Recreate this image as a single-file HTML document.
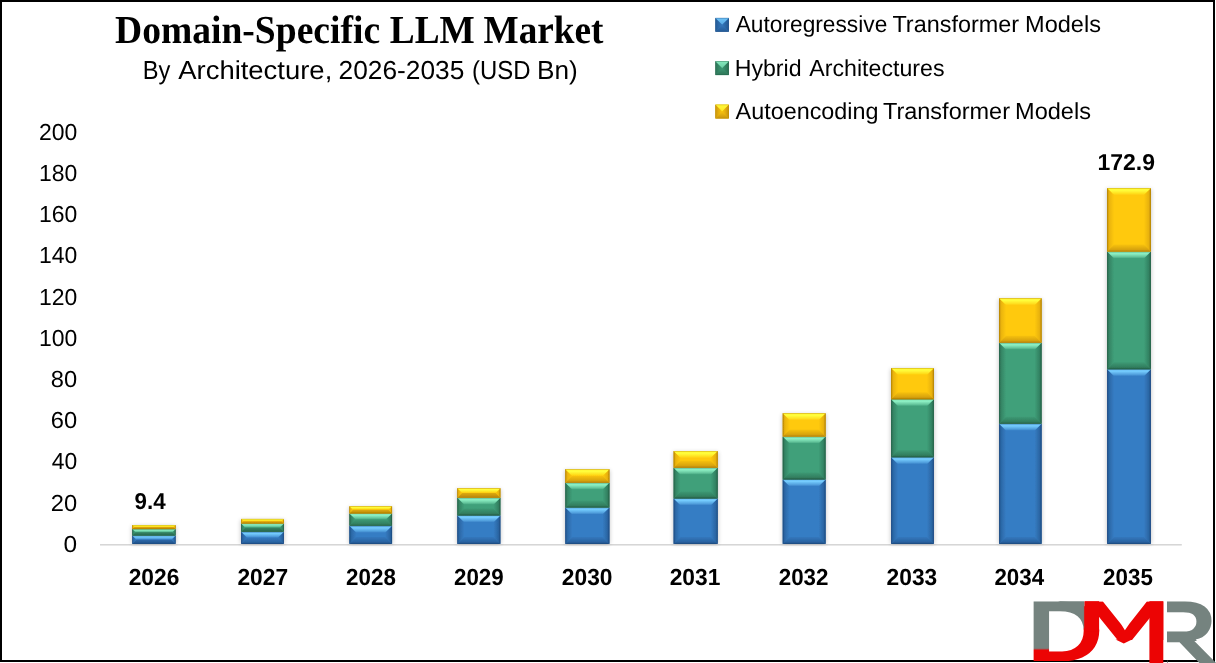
<!DOCTYPE html>
<html lang="en"><head><meta charset="utf-8"><title>Domain-Specific LLM Market</title>
<style>
html,body{margin:0;padding:0;background:#fff;}
body{width:1216px;height:663px;overflow:hidden;position:relative;}
svg{display:block;position:absolute;left:0;top:0;}
text{fill:#000;text-rendering:geometricPrecision;}
</style></head><body>
<svg width="1216" height="663" viewBox="0 0 1216 663">
<defs>
<linearGradient id="tb" x1="0" y1="0" x2="0" y2="1"><stop offset="0" stop-color="#74cbfd" stop-opacity="0.8"/><stop offset="0.3" stop-color="#74cbfd" stop-opacity="1"/><stop offset="0.75" stop-color="#74cbfd" stop-opacity="0.45"/><stop offset="1" stop-color="#74cbfd" stop-opacity="0"/></linearGradient>
<linearGradient id="btb" x1="0" y1="1" x2="0" y2="0"><stop offset="0" stop-color="#1d4a80" stop-opacity="0.95"/><stop offset="0.3" stop-color="#1d4a80" stop-opacity="0.5"/><stop offset="1" stop-color="#1d4a80" stop-opacity="0.1"/></linearGradient>
<linearGradient id="btsb" x1="0" y1="1" x2="0" y2="0"><stop offset="0" stop-color="#1d4a80" stop-opacity="0.95"/><stop offset="0.4" stop-color="#1d4a80" stop-opacity="0.7"/><stop offset="1" stop-color="#1d4a80" stop-opacity="0.4"/></linearGradient>
<linearGradient id="slb" x1="0" y1="0" x2="1" y2="0"><stop offset="0" stop-color="#1d4a80" stop-opacity="0.95"/><stop offset="0.3" stop-color="#23578f" stop-opacity="0.55"/><stop offset="1" stop-color="#23578f" stop-opacity="0"/></linearGradient>
<linearGradient id="srb" x1="1" y1="0" x2="0" y2="0"><stop offset="0" stop-color="#1d4a80" stop-opacity="1"/><stop offset="0.3" stop-color="#23578f" stop-opacity="0.6"/><stop offset="1" stop-color="#23578f" stop-opacity="0"/></linearGradient>
<linearGradient id="mtb" x1="0" y1="0" x2="0" y2="1"><stop offset="0" stop-color="#74cbfd" stop-opacity="0.9"/><stop offset="1" stop-color="#74cbfd" stop-opacity="0.55"/></linearGradient>
<linearGradient id="mbtb" x1="0" y1="1" x2="0" y2="0"><stop offset="0" stop-color="#1d4a80" stop-opacity="0.7"/><stop offset="1" stop-color="#1d4a80" stop-opacity="0.1"/></linearGradient>
<linearGradient id="mslb" x1="0" y1="0" x2="1" y2="0"><stop offset="0" stop-color="#1d4a80" stop-opacity="0.7"/><stop offset="1" stop-color="#23578f" stop-opacity="0.15"/></linearGradient>
<linearGradient id="msrb" x1="1" y1="0" x2="0" y2="0"><stop offset="0" stop-color="#1d4a80" stop-opacity="0.8"/><stop offset="1" stop-color="#23578f" stop-opacity="0.2"/></linearGradient>
<linearGradient id="tg" x1="0" y1="0" x2="0" y2="1"><stop offset="0" stop-color="#8df0c4" stop-opacity="0.8"/><stop offset="0.3" stop-color="#8df0c4" stop-opacity="1"/><stop offset="0.75" stop-color="#8df0c4" stop-opacity="0.45"/><stop offset="1" stop-color="#8df0c4" stop-opacity="0"/></linearGradient>
<linearGradient id="btg" x1="0" y1="1" x2="0" y2="0"><stop offset="0" stop-color="#245e45" stop-opacity="0.95"/><stop offset="0.3" stop-color="#245e45" stop-opacity="0.5"/><stop offset="1" stop-color="#245e45" stop-opacity="0.1"/></linearGradient>
<linearGradient id="btsg" x1="0" y1="1" x2="0" y2="0"><stop offset="0" stop-color="#245e45" stop-opacity="0.95"/><stop offset="0.4" stop-color="#245e45" stop-opacity="0.7"/><stop offset="1" stop-color="#245e45" stop-opacity="0.4"/></linearGradient>
<linearGradient id="slg" x1="0" y1="0" x2="1" y2="0"><stop offset="0" stop-color="#245e45" stop-opacity="0.95"/><stop offset="0.3" stop-color="#2a6e52" stop-opacity="0.55"/><stop offset="1" stop-color="#2a6e52" stop-opacity="0"/></linearGradient>
<linearGradient id="srg" x1="1" y1="0" x2="0" y2="0"><stop offset="0" stop-color="#245e45" stop-opacity="1"/><stop offset="0.3" stop-color="#2a6e52" stop-opacity="0.6"/><stop offset="1" stop-color="#2a6e52" stop-opacity="0"/></linearGradient>
<linearGradient id="mtg" x1="0" y1="0" x2="0" y2="1"><stop offset="0" stop-color="#8df0c4" stop-opacity="0.9"/><stop offset="1" stop-color="#8df0c4" stop-opacity="0.55"/></linearGradient>
<linearGradient id="mbtg" x1="0" y1="1" x2="0" y2="0"><stop offset="0" stop-color="#245e45" stop-opacity="0.7"/><stop offset="1" stop-color="#245e45" stop-opacity="0.1"/></linearGradient>
<linearGradient id="mslg" x1="0" y1="0" x2="1" y2="0"><stop offset="0" stop-color="#245e45" stop-opacity="0.7"/><stop offset="1" stop-color="#2a6e52" stop-opacity="0.15"/></linearGradient>
<linearGradient id="msrg" x1="1" y1="0" x2="0" y2="0"><stop offset="0" stop-color="#245e45" stop-opacity="0.8"/><stop offset="1" stop-color="#2a6e52" stop-opacity="0.2"/></linearGradient>
<linearGradient id="ty" x1="0" y1="0" x2="0" y2="1"><stop offset="0" stop-color="#ffff3c" stop-opacity="0.8"/><stop offset="0.3" stop-color="#ffff3c" stop-opacity="1"/><stop offset="0.75" stop-color="#ffff3c" stop-opacity="0.45"/><stop offset="1" stop-color="#ffff3c" stop-opacity="0"/></linearGradient>
<linearGradient id="bty" x1="0" y1="1" x2="0" y2="0"><stop offset="0" stop-color="#b07d06" stop-opacity="0.95"/><stop offset="0.3" stop-color="#b07d06" stop-opacity="0.5"/><stop offset="1" stop-color="#b07d06" stop-opacity="0.1"/></linearGradient>
<linearGradient id="btsy" x1="0" y1="1" x2="0" y2="0"><stop offset="0" stop-color="#b07d06" stop-opacity="0.95"/><stop offset="0.4" stop-color="#b07d06" stop-opacity="0.7"/><stop offset="1" stop-color="#b07d06" stop-opacity="0.4"/></linearGradient>
<linearGradient id="sly" x1="0" y1="0" x2="1" y2="0"><stop offset="0" stop-color="#b07d06" stop-opacity="0.95"/><stop offset="0.3" stop-color="#d9a208" stop-opacity="0.55"/><stop offset="1" stop-color="#d9a208" stop-opacity="0"/></linearGradient>
<linearGradient id="sry" x1="1" y1="0" x2="0" y2="0"><stop offset="0" stop-color="#b07d06" stop-opacity="1"/><stop offset="0.3" stop-color="#d9a208" stop-opacity="0.6"/><stop offset="1" stop-color="#d9a208" stop-opacity="0"/></linearGradient>
<linearGradient id="mty" x1="0" y1="0" x2="0" y2="1"><stop offset="0" stop-color="#ffff3c" stop-opacity="0.9"/><stop offset="1" stop-color="#ffff3c" stop-opacity="0.55"/></linearGradient>
<linearGradient id="mbty" x1="0" y1="1" x2="0" y2="0"><stop offset="0" stop-color="#b07d06" stop-opacity="0.7"/><stop offset="1" stop-color="#b07d06" stop-opacity="0.1"/></linearGradient>
<linearGradient id="msly" x1="0" y1="0" x2="1" y2="0"><stop offset="0" stop-color="#b07d06" stop-opacity="0.7"/><stop offset="1" stop-color="#d9a208" stop-opacity="0.15"/></linearGradient>
<linearGradient id="msry" x1="1" y1="0" x2="0" y2="0"><stop offset="0" stop-color="#b07d06" stop-opacity="0.8"/><stop offset="1" stop-color="#d9a208" stop-opacity="0.2"/></linearGradient>
<filter id="sh" x="-30%" y="-10%" width="160%" height="120%"><feGaussianBlur stdDeviation="2.2"/></filter>
<filter id="soft" x="-5%" y="-5%" width="110%" height="110%"><feGaussianBlur stdDeviation="0.45"/></filter>
</defs>
<rect x="0" y="0" width="1216" height="663" fill="#fff"/>
<!-- axis -->
<rect x="100.0" y="544.1" width="1081.8" height="1.4" fill="#d2d2d2"/>
<g filter="url(#sh)" fill="#000" opacity="0.22">
<rect x="131.80" y="526.00" width="44.25" height="17.90"/>
<rect x="240.65" y="519.90" width="43.70" height="24.00"/>
<rect x="348.95" y="507.20" width="43.60" height="36.70"/>
<rect x="456.85" y="489.20" width="44.00" height="54.70"/>
<rect x="564.85" y="470.30" width="45.05" height="73.60"/>
<rect x="673.15" y="452.10" width="45.00" height="91.80"/>
<rect x="782.25" y="414.20" width="43.80" height="129.70"/>
<rect x="890.65" y="369.00" width="43.70" height="174.90"/>
<rect x="998.60" y="299.20" width="43.45" height="244.70"/>
<rect x="1106.65" y="189.05" width="44.70" height="354.85"/>
</g>
<g filter="url(#soft)">
<rect x="132.30" y="535.60" width="43.25" height="8.30" fill="#367dc4"/>
<polygon points="132.30,535.60 136.45,539.75 136.45,539.75 132.30,543.90" fill="url(#slb)"/>
<polygon points="175.55,535.60 171.40,539.75 171.40,539.75 175.55,543.90" fill="url(#srb)"/>
<polygon points="132.30,535.60 175.55,535.60 171.40,539.75 136.45,539.75" fill="url(#tb)"/>
<polygon points="132.30,543.90 175.55,543.90 171.40,539.75 136.45,539.75" fill="url(#btsb)"/>
<rect x="132.60" y="535.90" width="42.65" height="7.70" fill="none" stroke="#1d4a80" stroke-opacity="0.55" stroke-width="0.6"/>
<rect x="132.30" y="529.10" width="43.25" height="6.50" fill="#40a07a"/>
<polygon points="132.30,529.10 135.55,532.35 135.55,532.35 132.30,535.60" fill="url(#slg)"/>
<polygon points="175.55,529.10 172.30,532.35 172.30,532.35 175.55,535.60" fill="url(#srg)"/>
<polygon points="132.30,529.10 175.55,529.10 172.30,532.35 135.55,532.35" fill="url(#tg)"/>
<polygon points="132.30,535.60 175.55,535.60 172.30,532.35 135.55,532.35" fill="url(#btsg)"/>
<rect x="132.60" y="529.40" width="42.65" height="5.90" fill="none" stroke="#245e45" stroke-opacity="0.55" stroke-width="0.6"/>
<rect x="132.30" y="525.00" width="43.25" height="4.10" fill="#ffc90b"/>
<polygon points="132.30,525.00 134.35,527.05 134.35,527.05 132.30,529.10" fill="url(#sly)"/>
<polygon points="175.55,525.00 173.50,527.05 173.50,527.05 175.55,529.10" fill="url(#sry)"/>
<polygon points="132.30,525.00 175.55,525.00 173.50,527.05 134.35,527.05" fill="url(#ty)"/>
<polygon points="132.30,529.10 175.55,529.10 173.50,527.05 134.35,527.05" fill="url(#btsy)"/>
<rect x="132.60" y="525.30" width="42.65" height="3.50" fill="none" stroke="#b07d06" stroke-opacity="0.55" stroke-width="0.6"/>
<rect x="241.15" y="531.80" width="42.70" height="12.10" fill="#367dc4"/>
<polygon points="241.15,531.80 247.20,537.85 247.20,537.85 241.15,543.90" fill="url(#slb)"/>
<polygon points="283.85,531.80 277.80,537.85 277.80,537.85 283.85,543.90" fill="url(#srb)"/>
<polygon points="241.15,531.80 283.85,531.80 277.80,537.85 247.20,537.85" fill="url(#tb)"/>
<polygon points="241.15,543.90 283.85,543.90 277.80,537.85 247.20,537.85" fill="url(#btb)"/>
<rect x="241.45" y="532.10" width="42.10" height="11.50" fill="none" stroke="#1d4a80" stroke-opacity="0.55" stroke-width="0.6"/>
<rect x="241.15" y="523.50" width="42.70" height="8.30" fill="#40a07a"/>
<polygon points="241.15,523.50 245.30,527.65 245.30,527.65 241.15,531.80" fill="url(#slg)"/>
<polygon points="283.85,523.50 279.70,527.65 279.70,527.65 283.85,531.80" fill="url(#srg)"/>
<polygon points="241.15,523.50 283.85,523.50 279.70,527.65 245.30,527.65" fill="url(#tg)"/>
<polygon points="241.15,531.80 283.85,531.80 279.70,527.65 245.30,527.65" fill="url(#btsg)"/>
<rect x="241.45" y="523.80" width="42.10" height="7.70" fill="none" stroke="#245e45" stroke-opacity="0.55" stroke-width="0.6"/>
<rect x="241.15" y="518.90" width="42.70" height="4.60" fill="#ffc90b"/>
<polygon points="241.15,518.90 243.45,521.20 243.45,521.20 241.15,523.50" fill="url(#sly)"/>
<polygon points="283.85,518.90 281.55,521.20 281.55,521.20 283.85,523.50" fill="url(#sry)"/>
<polygon points="241.15,518.90 283.85,518.90 281.55,521.20 243.45,521.20" fill="url(#ty)"/>
<polygon points="241.15,523.50 283.85,523.50 281.55,521.20 243.45,521.20" fill="url(#btsy)"/>
<rect x="241.45" y="519.20" width="42.10" height="4.00" fill="none" stroke="#b07d06" stroke-opacity="0.55" stroke-width="0.6"/>
<rect x="349.45" y="525.85" width="42.60" height="18.05" fill="#367dc4"/>
<polygon points="349.45,525.85 356.45,532.85 356.45,536.90 349.45,543.90" fill="url(#slb)"/>
<polygon points="392.05,525.85 385.05,532.85 385.05,536.90 392.05,543.90" fill="url(#srb)"/>
<polygon points="349.45,525.85 392.05,525.85 385.05,532.85 356.45,532.85" fill="url(#tb)"/>
<polygon points="349.45,543.90 392.05,543.90 385.05,536.90 356.45,536.90" fill="url(#btb)"/>
<rect x="349.75" y="526.15" width="42.00" height="17.45" fill="none" stroke="#1d4a80" stroke-opacity="0.55" stroke-width="0.6"/>
<rect x="349.45" y="513.40" width="42.60" height="12.45" fill="#40a07a"/>
<polygon points="349.45,513.40 355.68,519.62 355.68,519.62 349.45,525.85" fill="url(#slg)"/>
<polygon points="392.05,513.40 385.82,519.62 385.82,519.62 392.05,525.85" fill="url(#srg)"/>
<polygon points="349.45,513.40 392.05,513.40 385.82,519.62 355.68,519.62" fill="url(#tg)"/>
<polygon points="349.45,525.85 392.05,525.85 385.82,519.62 355.68,519.62" fill="url(#btg)"/>
<rect x="349.75" y="513.70" width="42.00" height="11.85" fill="none" stroke="#245e45" stroke-opacity="0.55" stroke-width="0.6"/>
<rect x="349.45" y="506.20" width="42.60" height="7.20" fill="#ffc90b"/>
<polygon points="349.45,506.20 353.05,509.80 353.05,509.80 349.45,513.40" fill="url(#sly)"/>
<polygon points="392.05,506.20 388.45,509.80 388.45,509.80 392.05,513.40" fill="url(#sry)"/>
<polygon points="349.45,506.20 392.05,506.20 388.45,509.80 353.05,509.80" fill="url(#ty)"/>
<polygon points="349.45,513.40 392.05,513.40 388.45,509.80 353.05,509.80" fill="url(#btsy)"/>
<rect x="349.75" y="506.50" width="42.00" height="6.60" fill="none" stroke="#b07d06" stroke-opacity="0.55" stroke-width="0.6"/>
<rect x="457.35" y="515.40" width="43.00" height="28.50" fill="#367dc4"/>
<polygon points="457.35,515.40 464.35,522.40 464.35,536.90 457.35,543.90" fill="url(#slb)"/>
<polygon points="500.35,515.40 493.35,522.40 493.35,536.90 500.35,543.90" fill="url(#srb)"/>
<polygon points="457.35,515.40 500.35,515.40 493.35,522.40 464.35,522.40" fill="url(#tb)"/>
<polygon points="457.35,543.90 500.35,543.90 493.35,536.90 464.35,536.90" fill="url(#btb)"/>
<rect x="457.65" y="515.70" width="42.40" height="27.90" fill="none" stroke="#1d4a80" stroke-opacity="0.55" stroke-width="0.6"/>
<rect x="457.35" y="497.70" width="43.00" height="17.70" fill="#40a07a"/>
<polygon points="457.35,497.70 464.35,504.70 464.35,508.40 457.35,515.40" fill="url(#slg)"/>
<polygon points="500.35,497.70 493.35,504.70 493.35,508.40 500.35,515.40" fill="url(#srg)"/>
<polygon points="457.35,497.70 500.35,497.70 493.35,504.70 464.35,504.70" fill="url(#tg)"/>
<polygon points="457.35,515.40 500.35,515.40 493.35,508.40 464.35,508.40" fill="url(#btg)"/>
<rect x="457.65" y="498.00" width="42.40" height="17.10" fill="none" stroke="#245e45" stroke-opacity="0.55" stroke-width="0.6"/>
<rect x="457.35" y="488.20" width="43.00" height="9.50" fill="#ffc90b"/>
<polygon points="457.35,488.20 462.10,492.95 462.10,492.95 457.35,497.70" fill="url(#sly)"/>
<polygon points="500.35,488.20 495.60,492.95 495.60,492.95 500.35,497.70" fill="url(#sry)"/>
<polygon points="457.35,488.20 500.35,488.20 495.60,492.95 462.10,492.95" fill="url(#ty)"/>
<polygon points="457.35,497.70 500.35,497.70 495.60,492.95 462.10,492.95" fill="url(#btsy)"/>
<rect x="457.65" y="488.50" width="42.40" height="8.90" fill="none" stroke="#b07d06" stroke-opacity="0.55" stroke-width="0.6"/>
<rect x="565.35" y="507.50" width="44.05" height="36.40" fill="#367dc4"/>
<polygon points="565.35,507.50 572.35,514.50 572.35,536.90 565.35,543.90" fill="url(#slb)"/>
<polygon points="609.40,507.50 602.40,514.50 602.40,536.90 609.40,543.90" fill="url(#srb)"/>
<polygon points="565.35,507.50 609.40,507.50 602.40,514.50 572.35,514.50" fill="url(#tb)"/>
<polygon points="565.35,543.90 609.40,543.90 602.40,536.90 572.35,536.90" fill="url(#btb)"/>
<rect x="565.65" y="507.80" width="43.45" height="35.80" fill="none" stroke="#1d4a80" stroke-opacity="0.55" stroke-width="0.6"/>
<rect x="565.35" y="482.70" width="44.05" height="24.80" fill="#40a07a"/>
<polygon points="565.35,482.70 572.35,489.70 572.35,500.50 565.35,507.50" fill="url(#slg)"/>
<polygon points="609.40,482.70 602.40,489.70 602.40,500.50 609.40,507.50" fill="url(#srg)"/>
<polygon points="565.35,482.70 609.40,482.70 602.40,489.70 572.35,489.70" fill="url(#tg)"/>
<polygon points="565.35,507.50 609.40,507.50 602.40,500.50 572.35,500.50" fill="url(#btg)"/>
<rect x="565.65" y="483.00" width="43.45" height="24.20" fill="none" stroke="#245e45" stroke-opacity="0.55" stroke-width="0.6"/>
<rect x="565.35" y="469.30" width="44.05" height="13.40" fill="#ffc90b"/>
<polygon points="565.35,469.30 572.05,476.00 572.05,476.00 565.35,482.70" fill="url(#sly)"/>
<polygon points="609.40,469.30 602.70,476.00 602.70,476.00 609.40,482.70" fill="url(#sry)"/>
<polygon points="565.35,469.30 609.40,469.30 602.70,476.00 572.05,476.00" fill="url(#ty)"/>
<polygon points="565.35,482.70 609.40,482.70 602.70,476.00 572.05,476.00" fill="url(#bty)"/>
<rect x="565.65" y="469.60" width="43.45" height="12.80" fill="none" stroke="#b07d06" stroke-opacity="0.55" stroke-width="0.6"/>
<rect x="673.65" y="498.40" width="44.00" height="45.50" fill="#367dc4"/>
<polygon points="673.65,498.40 680.65,505.40 680.65,536.90 673.65,543.90" fill="url(#slb)"/>
<polygon points="717.65,498.40 710.65,505.40 710.65,536.90 717.65,543.90" fill="url(#srb)"/>
<polygon points="673.65,498.40 717.65,498.40 710.65,505.40 680.65,505.40" fill="url(#tb)"/>
<polygon points="673.65,543.90 717.65,543.90 710.65,536.90 680.65,536.90" fill="url(#btb)"/>
<rect x="673.95" y="498.70" width="43.40" height="44.90" fill="none" stroke="#1d4a80" stroke-opacity="0.55" stroke-width="0.6"/>
<rect x="673.65" y="467.70" width="44.00" height="30.70" fill="#40a07a"/>
<polygon points="673.65,467.70 680.65,474.70 680.65,491.40 673.65,498.40" fill="url(#slg)"/>
<polygon points="717.65,467.70 710.65,474.70 710.65,491.40 717.65,498.40" fill="url(#srg)"/>
<polygon points="673.65,467.70 717.65,467.70 710.65,474.70 680.65,474.70" fill="url(#tg)"/>
<polygon points="673.65,498.40 717.65,498.40 710.65,491.40 680.65,491.40" fill="url(#btg)"/>
<rect x="673.95" y="468.00" width="43.40" height="30.10" fill="none" stroke="#245e45" stroke-opacity="0.55" stroke-width="0.6"/>
<rect x="673.65" y="451.10" width="44.00" height="16.60" fill="#ffc90b"/>
<polygon points="673.65,451.10 680.65,458.10 680.65,460.70 673.65,467.70" fill="url(#sly)"/>
<polygon points="717.65,451.10 710.65,458.10 710.65,460.70 717.65,467.70" fill="url(#sry)"/>
<polygon points="673.65,451.10 717.65,451.10 710.65,458.10 680.65,458.10" fill="url(#ty)"/>
<polygon points="673.65,467.70 717.65,467.70 710.65,460.70 680.65,460.70" fill="url(#bty)"/>
<rect x="673.95" y="451.40" width="43.40" height="16.00" fill="none" stroke="#b07d06" stroke-opacity="0.55" stroke-width="0.6"/>
<rect x="782.75" y="479.40" width="42.80" height="64.50" fill="#367dc4"/>
<polygon points="782.75,479.40 789.75,486.40 789.75,536.90 782.75,543.90" fill="url(#slb)"/>
<polygon points="825.55,479.40 818.55,486.40 818.55,536.90 825.55,543.90" fill="url(#srb)"/>
<polygon points="782.75,479.40 825.55,479.40 818.55,486.40 789.75,486.40" fill="url(#tb)"/>
<polygon points="782.75,543.90 825.55,543.90 818.55,536.90 789.75,536.90" fill="url(#btb)"/>
<rect x="783.05" y="479.70" width="42.20" height="63.90" fill="none" stroke="#1d4a80" stroke-opacity="0.55" stroke-width="0.6"/>
<rect x="782.75" y="436.60" width="42.80" height="42.80" fill="#40a07a"/>
<polygon points="782.75,436.60 789.75,443.60 789.75,472.40 782.75,479.40" fill="url(#slg)"/>
<polygon points="825.55,436.60 818.55,443.60 818.55,472.40 825.55,479.40" fill="url(#srg)"/>
<polygon points="782.75,436.60 825.55,436.60 818.55,443.60 789.75,443.60" fill="url(#tg)"/>
<polygon points="782.75,479.40 825.55,479.40 818.55,472.40 789.75,472.40" fill="url(#btg)"/>
<rect x="783.05" y="436.90" width="42.20" height="42.20" fill="none" stroke="#245e45" stroke-opacity="0.55" stroke-width="0.6"/>
<rect x="782.75" y="413.20" width="42.80" height="23.40" fill="#ffc90b"/>
<polygon points="782.75,413.20 789.75,420.20 789.75,429.60 782.75,436.60" fill="url(#sly)"/>
<polygon points="825.55,413.20 818.55,420.20 818.55,429.60 825.55,436.60" fill="url(#sry)"/>
<polygon points="782.75,413.20 825.55,413.20 818.55,420.20 789.75,420.20" fill="url(#ty)"/>
<polygon points="782.75,436.60 825.55,436.60 818.55,429.60 789.75,429.60" fill="url(#bty)"/>
<rect x="783.05" y="413.50" width="42.20" height="22.80" fill="none" stroke="#b07d06" stroke-opacity="0.55" stroke-width="0.6"/>
<rect x="891.15" y="457.20" width="42.70" height="86.70" fill="#367dc4"/>
<polygon points="891.15,457.20 898.15,464.20 898.15,536.90 891.15,543.90" fill="url(#slb)"/>
<polygon points="933.85,457.20 926.85,464.20 926.85,536.90 933.85,543.90" fill="url(#srb)"/>
<polygon points="891.15,457.20 933.85,457.20 926.85,464.20 898.15,464.20" fill="url(#tb)"/>
<polygon points="891.15,543.90 933.85,543.90 926.85,536.90 898.15,536.90" fill="url(#btb)"/>
<rect x="891.45" y="457.50" width="42.10" height="86.10" fill="none" stroke="#1d4a80" stroke-opacity="0.55" stroke-width="0.6"/>
<rect x="891.15" y="399.20" width="42.70" height="58.00" fill="#40a07a"/>
<polygon points="891.15,399.20 898.15,406.20 898.15,450.20 891.15,457.20" fill="url(#slg)"/>
<polygon points="933.85,399.20 926.85,406.20 926.85,450.20 933.85,457.20" fill="url(#srg)"/>
<polygon points="891.15,399.20 933.85,399.20 926.85,406.20 898.15,406.20" fill="url(#tg)"/>
<polygon points="891.15,457.20 933.85,457.20 926.85,450.20 898.15,450.20" fill="url(#btg)"/>
<rect x="891.45" y="399.50" width="42.10" height="57.40" fill="none" stroke="#245e45" stroke-opacity="0.55" stroke-width="0.6"/>
<rect x="891.15" y="368.00" width="42.70" height="31.20" fill="#ffc90b"/>
<polygon points="891.15,368.00 898.15,375.00 898.15,392.20 891.15,399.20" fill="url(#sly)"/>
<polygon points="933.85,368.00 926.85,375.00 926.85,392.20 933.85,399.20" fill="url(#sry)"/>
<polygon points="891.15,368.00 933.85,368.00 926.85,375.00 898.15,375.00" fill="url(#ty)"/>
<polygon points="891.15,399.20 933.85,399.20 926.85,392.20 898.15,392.20" fill="url(#bty)"/>
<rect x="891.45" y="368.30" width="42.10" height="30.60" fill="none" stroke="#b07d06" stroke-opacity="0.55" stroke-width="0.6"/>
<rect x="999.10" y="423.75" width="42.45" height="120.15" fill="#367dc4"/>
<polygon points="999.10,423.75 1006.10,430.75 1006.10,536.90 999.10,543.90" fill="url(#slb)"/>
<polygon points="1041.55,423.75 1034.55,430.75 1034.55,536.90 1041.55,543.90" fill="url(#srb)"/>
<polygon points="999.10,423.75 1041.55,423.75 1034.55,430.75 1006.10,430.75" fill="url(#tb)"/>
<polygon points="999.10,543.90 1041.55,543.90 1034.55,536.90 1006.10,536.90" fill="url(#btb)"/>
<rect x="999.40" y="424.05" width="41.85" height="119.55" fill="none" stroke="#1d4a80" stroke-opacity="0.55" stroke-width="0.6"/>
<rect x="999.10" y="342.70" width="42.45" height="81.05" fill="#40a07a"/>
<polygon points="999.10,342.70 1006.10,349.70 1006.10,416.75 999.10,423.75" fill="url(#slg)"/>
<polygon points="1041.55,342.70 1034.55,349.70 1034.55,416.75 1041.55,423.75" fill="url(#srg)"/>
<polygon points="999.10,342.70 1041.55,342.70 1034.55,349.70 1006.10,349.70" fill="url(#tg)"/>
<polygon points="999.10,423.75 1041.55,423.75 1034.55,416.75 1006.10,416.75" fill="url(#btg)"/>
<rect x="999.40" y="343.00" width="41.85" height="80.45" fill="none" stroke="#245e45" stroke-opacity="0.55" stroke-width="0.6"/>
<rect x="999.10" y="298.20" width="42.45" height="44.50" fill="#ffc90b"/>
<polygon points="999.10,298.20 1006.10,305.20 1006.10,335.70 999.10,342.70" fill="url(#sly)"/>
<polygon points="1041.55,298.20 1034.55,305.20 1034.55,335.70 1041.55,342.70" fill="url(#sry)"/>
<polygon points="999.10,298.20 1041.55,298.20 1034.55,305.20 1006.10,305.20" fill="url(#ty)"/>
<polygon points="999.10,342.70 1041.55,342.70 1034.55,335.70 1006.10,335.70" fill="url(#bty)"/>
<rect x="999.40" y="298.50" width="41.85" height="43.90" fill="none" stroke="#b07d06" stroke-opacity="0.55" stroke-width="0.6"/>
<rect x="1107.15" y="369.20" width="43.70" height="174.70" fill="#367dc4"/>
<polygon points="1107.15,369.20 1114.15,376.20 1114.15,536.90 1107.15,543.90" fill="url(#slb)"/>
<polygon points="1150.85,369.20 1143.85,376.20 1143.85,536.90 1150.85,543.90" fill="url(#srb)"/>
<polygon points="1107.15,369.20 1150.85,369.20 1143.85,376.20 1114.15,376.20" fill="url(#tb)"/>
<polygon points="1107.15,543.90 1150.85,543.90 1143.85,536.90 1114.15,536.90" fill="url(#btb)"/>
<rect x="1107.45" y="369.50" width="43.10" height="174.10" fill="none" stroke="#1d4a80" stroke-opacity="0.55" stroke-width="0.6"/>
<rect x="1107.15" y="251.60" width="43.70" height="117.60" fill="#40a07a"/>
<polygon points="1107.15,251.60 1114.15,258.60 1114.15,362.20 1107.15,369.20" fill="url(#slg)"/>
<polygon points="1150.85,251.60 1143.85,258.60 1143.85,362.20 1150.85,369.20" fill="url(#srg)"/>
<polygon points="1107.15,251.60 1150.85,251.60 1143.85,258.60 1114.15,258.60" fill="url(#tg)"/>
<polygon points="1107.15,369.20 1150.85,369.20 1143.85,362.20 1114.15,362.20" fill="url(#btg)"/>
<rect x="1107.45" y="251.90" width="43.10" height="117.00" fill="none" stroke="#245e45" stroke-opacity="0.55" stroke-width="0.6"/>
<rect x="1107.15" y="188.05" width="43.70" height="63.55" fill="#ffc90b"/>
<polygon points="1107.15,188.05 1114.15,195.05 1114.15,244.60 1107.15,251.60" fill="url(#sly)"/>
<polygon points="1150.85,188.05 1143.85,195.05 1143.85,244.60 1150.85,251.60" fill="url(#sry)"/>
<polygon points="1107.15,188.05 1150.85,188.05 1143.85,195.05 1114.15,195.05" fill="url(#ty)"/>
<polygon points="1107.15,251.60 1150.85,251.60 1143.85,244.60 1114.15,244.60" fill="url(#bty)"/>
<rect x="1107.45" y="188.35" width="43.10" height="62.95" fill="none" stroke="#b07d06" stroke-opacity="0.55" stroke-width="0.6"/>
</g>
<g filter="url(#soft)">
<rect x="715.40" y="17.90" width="13.50" height="13.90" fill="#367dc4"/>
<polygon points="715.40,17.90 722.35,24.85 722.35,24.85 715.40,31.80" fill="url(#mslb)"/>
<polygon points="728.90,17.90 721.95,24.85 721.95,24.85 728.90,31.80" fill="url(#msrb)"/>
<polygon points="715.40,17.90 728.90,17.90 721.95,24.85 722.35,24.85" fill="url(#mtb)"/>
<polygon points="715.40,31.80 728.90,31.80 721.95,24.85 722.35,24.85" fill="url(#mbtb)"/>
<rect x="715.70" y="18.20" width="12.90" height="13.30" fill="none" stroke="#1d4a80" stroke-opacity="0.55" stroke-width="0.6"/>
<rect x="715.40" y="61.20" width="13.50" height="13.90" fill="#40a07a"/>
<polygon points="715.40,61.20 722.35,68.15 722.35,68.15 715.40,75.10" fill="url(#mslg)"/>
<polygon points="728.90,61.20 721.95,68.15 721.95,68.15 728.90,75.10" fill="url(#msrg)"/>
<polygon points="715.40,61.20 728.90,61.20 721.95,68.15 722.35,68.15" fill="url(#mtg)"/>
<polygon points="715.40,75.10 728.90,75.10 721.95,68.15 722.35,68.15" fill="url(#mbtg)"/>
<rect x="715.70" y="61.50" width="12.90" height="13.30" fill="none" stroke="#245e45" stroke-opacity="0.55" stroke-width="0.6"/>
<rect x="715.40" y="104.60" width="13.50" height="13.90" fill="#ffc90b"/>
<polygon points="715.40,104.60 722.35,111.55 722.35,111.55 715.40,118.50" fill="url(#msly)"/>
<polygon points="728.90,104.60 721.95,111.55 721.95,111.55 728.90,118.50" fill="url(#msry)"/>
<polygon points="715.40,104.60 728.90,104.60 721.95,111.55 722.35,111.55" fill="url(#mty)"/>
<polygon points="715.40,118.50 728.90,118.50 721.95,111.55 722.35,111.55" fill="url(#mbty)"/>
<rect x="715.70" y="104.90" width="12.90" height="13.30" fill="none" stroke="#b07d06" stroke-opacity="0.55" stroke-width="0.6"/>
</g>
<g>
<text y="42.8" font-family='"Liberation Serif", serif' font-size="39.7" font-weight="bold"><tspan x="115.00" textLength="265.08" lengthAdjust="spacingAndGlyphs">Domain-Specific</tspan> <tspan x="389.82" textLength="85.02" lengthAdjust="spacingAndGlyphs">LLM</tspan> <tspan x="483.50" textLength="119.94" lengthAdjust="spacingAndGlyphs">Market</tspan></text>
<text y="79.0" font-family='"Liberation Sans", sans-serif' font-size="26.0" font-weight="normal"><tspan x="142.64" textLength="27.66" lengthAdjust="spacingAndGlyphs">By</tspan> <tspan x="178.22" textLength="154.04" lengthAdjust="spacingAndGlyphs">Architecture,</tspan> <tspan x="338.60" textLength="125.76" lengthAdjust="spacingAndGlyphs">2026-2035</tspan> <tspan x="471.98" textLength="58.46" lengthAdjust="spacingAndGlyphs">(USD</tspan> <tspan x="537.06" textLength="40.74" lengthAdjust="spacingAndGlyphs">Bn)</tspan></text>
<text y="31.9" font-family='"Liberation Sans", sans-serif' font-size="23.25" font-weight="normal"><tspan x="735.70" textLength="151.60" lengthAdjust="spacingAndGlyphs">Autoregressive</tspan> <tspan x="892.44" textLength="126.66" lengthAdjust="spacingAndGlyphs">Transformer</tspan> <tspan x="1025.06" textLength="75.92" lengthAdjust="spacingAndGlyphs">Models</tspan></text>
<text y="75.7" font-family='"Liberation Sans", sans-serif' font-size="23.25" font-weight="normal"><tspan x="734.70" textLength="66.80" lengthAdjust="spacingAndGlyphs">Hybrid</tspan> <tspan x="809.36" textLength="135.16" lengthAdjust="spacingAndGlyphs">Architectures</tspan></text>
<text y="118.8" font-family='"Liberation Sans", sans-serif' font-size="23.25" font-weight="normal"><tspan x="735.60" textLength="142.90" lengthAdjust="spacingAndGlyphs">Autoencoding</tspan> <tspan x="882.92" textLength="127.10" lengthAdjust="spacingAndGlyphs">Transformer</tspan> <tspan x="1015.06" textLength="75.92" lengthAdjust="spacingAndGlyphs">Models</tspan></text>
<text y="169.9" font-family='"Liberation Sans", sans-serif' font-size="23.0" font-weight="bold"><tspan x="1097.54" textLength="57.50" lengthAdjust="spacingAndGlyphs">172.9</tspan></text>
<text y="508.9" font-family='"Liberation Sans", sans-serif' font-size="23.0" font-weight="bold"><tspan x="134.48" textLength="31.12" lengthAdjust="spacingAndGlyphs">9.4</tspan></text>
<text y="551.7" font-family='"Liberation Sans", sans-serif' font-size="23.2" font-weight="normal"><tspan x="63.60" textLength="13.60" lengthAdjust="spacingAndGlyphs">0</tspan></text>
<text y="510.5" font-family='"Liberation Sans", sans-serif' font-size="23.2" font-weight="normal"><tspan x="50.86" textLength="26.34" lengthAdjust="spacingAndGlyphs">20</tspan></text>
<text y="469.3" font-family='"Liberation Sans", sans-serif' font-size="23.2" font-weight="normal"><tspan x="51.76" textLength="25.44" lengthAdjust="spacingAndGlyphs">40</tspan></text>
<text y="428.1" font-family='"Liberation Sans", sans-serif' font-size="23.2" font-weight="normal"><tspan x="50.86" textLength="26.34" lengthAdjust="spacingAndGlyphs">60</tspan></text>
<text y="386.9" font-family='"Liberation Sans", sans-serif' font-size="23.2" font-weight="normal"><tspan x="50.86" textLength="26.34" lengthAdjust="spacingAndGlyphs">80</tspan></text>
<text y="345.8" font-family='"Liberation Sans", sans-serif' font-size="23.2" font-weight="normal"><tspan x="38.94" textLength="38.26" lengthAdjust="spacingAndGlyphs">100</tspan></text>
<text y="304.6" font-family='"Liberation Sans", sans-serif' font-size="23.2" font-weight="normal"><tspan x="38.94" textLength="38.26" lengthAdjust="spacingAndGlyphs">120</tspan></text>
<text y="263.4" font-family='"Liberation Sans", sans-serif' font-size="23.2" font-weight="normal"><tspan x="38.94" textLength="38.26" lengthAdjust="spacingAndGlyphs">140</tspan></text>
<text y="222.2" font-family='"Liberation Sans", sans-serif' font-size="23.2" font-weight="normal"><tspan x="38.94" textLength="38.26" lengthAdjust="spacingAndGlyphs">160</tspan></text>
<text y="181.0" font-family='"Liberation Sans", sans-serif' font-size="23.2" font-weight="normal"><tspan x="38.94" textLength="38.26" lengthAdjust="spacingAndGlyphs">180</tspan></text>
<text y="139.8" font-family='"Liberation Sans", sans-serif' font-size="23.2" font-weight="normal"><tspan x="38.94" textLength="38.26" lengthAdjust="spacingAndGlyphs">200</tspan></text>
<text y="584.8" font-family='"Liberation Sans", sans-serif' font-size="23.3" font-weight="bold"><tspan x="128.70" textLength="50.66" lengthAdjust="spacingAndGlyphs">2026</tspan></text>
<text y="584.8" font-family='"Liberation Sans", sans-serif' font-size="23.3" font-weight="bold"><tspan x="237.45" textLength="50.66" lengthAdjust="spacingAndGlyphs">2027</tspan></text>
<text y="584.8" font-family='"Liberation Sans", sans-serif' font-size="23.3" font-weight="bold"><tspan x="346.12" textLength="49.76" lengthAdjust="spacingAndGlyphs">2028</tspan></text>
<text y="584.8" font-family='"Liberation Sans", sans-serif' font-size="23.3" font-weight="bold"><tspan x="453.97" textLength="49.76" lengthAdjust="spacingAndGlyphs">2029</tspan></text>
<text y="584.8" font-family='"Liberation Sans", sans-serif' font-size="23.3" font-weight="bold"><tspan x="561.82" textLength="50.66" lengthAdjust="spacingAndGlyphs">2030</tspan></text>
<text y="584.8" font-family='"Liberation Sans", sans-serif' font-size="23.3" font-weight="bold"><tspan x="669.66" textLength="50.66" lengthAdjust="spacingAndGlyphs">2031</tspan></text>
<text y="584.8" font-family='"Liberation Sans", sans-serif' font-size="23.3" font-weight="bold"><tspan x="778.70" textLength="49.76" lengthAdjust="spacingAndGlyphs">2032</tspan></text>
<text y="584.8" font-family='"Liberation Sans", sans-serif' font-size="23.3" font-weight="bold"><tspan x="886.55" textLength="50.66" lengthAdjust="spacingAndGlyphs">2033</tspan></text>
<text y="584.8" font-family='"Liberation Sans", sans-serif' font-size="23.3" font-weight="bold"><tspan x="994.40" textLength="49.76" lengthAdjust="spacingAndGlyphs">2034</tspan></text>
<text y="584.8" font-family='"Liberation Sans", sans-serif' font-size="23.3" font-weight="bold"><tspan x="1103.07" textLength="49.76" lengthAdjust="spacingAndGlyphs">2035</tspan></text>
</g>
<!-- frame -->
<path d="M1 1 H1214 V661 H1 Z" fill="none" stroke="#000" stroke-width="2"/>

<defs>
<pattern id="dfill" patternUnits="userSpaceOnUse" x="-20" y="-120" width="200" height="200">
<g transform="translate(20,120) scale(0.80906,1) translate(-1026.4,-660.5)">
<rect x="1000" y="560" width="216" height="140" fill="#ec0404"/>
<path d="M1000,560 H1084.3 V628 L1062,640 H1051 V649.3 H1000 Z" fill="#75837f"/>
</g>
</pattern>
<clipPath id="mclip"><path d="M1084.7,601.2 H1163.3 V663 H1099.1 V631 H1084.7 Z"/></clipPath>
<clipPath id="rclip"><rect x="1167" y="590" width="49" height="51"/></clipPath>
<clipPath id="rleg"><rect x="1167" y="641" width="49" height="22"/></clipPath>
</defs>
<g id="logo" font-family='"Liberation Sans", sans-serif' font-weight="bold" aria-label="DMR">
<path d="M1058,601.2 H1084.5 V610 Z" fill="#75837f"/>
<text transform="translate(1026.4,660.5) scale(1.236,1)" font-size="86.5" style="fill:url(#dfill)">D</text>
<g clip-path="url(#rclip)"><text id="rglyph" transform="translate(1142.3,666.7) scale(1.09,1)" font-size="95.2" style="fill:#75837f">R</text></g>
<g clip-path="url(#rleg)"><use href="#rglyph" transform="translate(-2.5,641) skewX(16) translate(0,-641)"/></g>
<g clip-path="url(#mclip)"><text transform="translate(1066.6,639.6) scale(2.5,1)" font-size="56.0" style="fill:#ec0404">M</text></g>
<rect x="1149.4" y="601.2" width="13.9" height="61.8" fill="#ec0404"/>
<rect x="1084.7" y="601.2" width="14.4" height="30" fill="#ec0404"/>
<path d="M1115.5,639.4 H1132 L1123.8,643.4 Z" fill="#ec0404"/>
</g>
</svg>
</body></html>
